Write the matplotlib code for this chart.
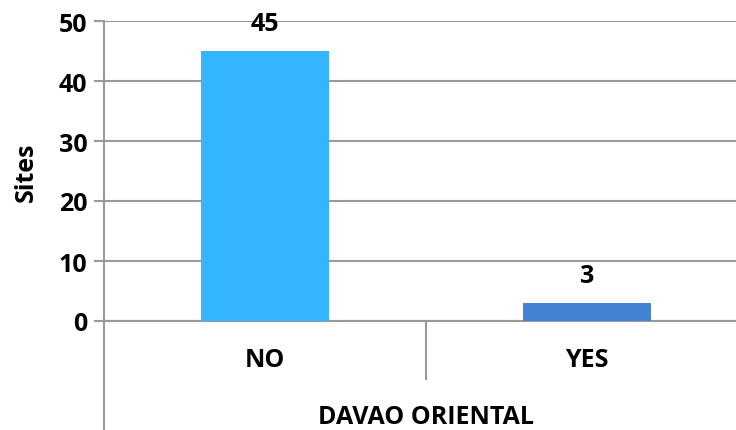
import matplotlib
matplotlib.use("Agg")
import matplotlib.pyplot as plt
from matplotlib.lines import Line2D

categories = ["NO", "YES"]
sites = [45, 3]
bar_colors = ["#33B5FF", "#4483D4"]
group_label = "DAVAO ORIENTAL"
y_ticks = [0, 10, 20, 30, 40, 50]

plt.rcParams['font.family'] = ['Open Sans', 'DejaVu Sans']
plt.rcParams['font.weight'] = 'bold'

W, H = 736, 431
fig = plt.figure(figsize=(W / 100, H / 100), dpi=100)
# plot area runs past the right edge, like the cropped original
x0, x1, ytop, yzero = 104, 748, 22, 322
ax = fig.add_axes([x0 / W, 1 - yzero / H, (x1 - x0) / W, (yzero - ytop) / H])

fs = 18
grey = "#9A9A9A"
xpos = range(len(categories))
ax.bar(xpos, sites, width=0.4, color=bar_colors, zorder=3)
for x, v in zip(xpos, sites):
    ax.annotate(str(v), (x, v), xytext=(0, 20), textcoords="offset points",
                ha="center", va="center", fontsize=fs, fontweight="bold")

ax.set_xlim(-0.5, len(categories) - 0.5)
ax.set_ylim(0, 50)
ax.set_yticks(y_ticks)
ax.tick_params(axis="y", length=7, width=1.5, color=grey, labelsize=fs, pad=5)
ax.set_xticks([])
ax.yaxis.grid(True, color=grey, linewidth=1.5, zorder=0)
for s in ["top", "right"]:
    ax.spines[s].set_visible(False)
for s in ["left", "bottom"]:
    ax.spines[s].set_color(grey)
    ax.spines[s].set_linewidth(1.5)

ax.set_ylabel("Sites", fontsize=fs, fontweight="bold", labelpad=14)

# multi-level category axis below the plot
fig.add_artist(Line2D([x0 / W, x0 / W], [1 - yzero / H, 0], color=grey, lw=1.5))
sep_x = (x0 + (x1 - x0) / 2) / W
fig.add_artist(Line2D([sep_x, sep_x], [1 - yzero / H, 1 - 380 / H], color=grey, lw=1.5))
for x, c in zip(xpos, categories):
    ax.text(x, -6.5, c, ha="center", va="center", fontsize=fs, fontweight="bold")
ax.text(0.5, -15.9, group_label, ha="center", va="center", fontsize=fs, fontweight="bold")

fig.savefig("out.png", dpi=100)
